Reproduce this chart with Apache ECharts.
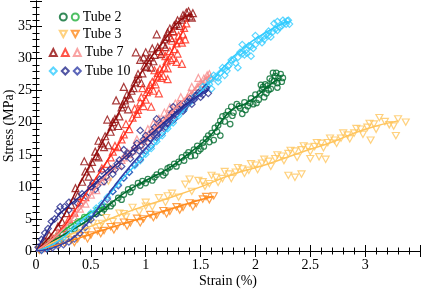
<!DOCTYPE html>
<html>
<head>
<meta charset="utf-8">
<script src="https://cdn.jsdelivr.net/npm/echarts@6/dist/echarts.min.js"></script>
<style>html,body{margin:0;padding:0;background:#fff}#c{width:421px;height:289px}</style>
</head>
<body>
<div id="c"></div>
<script>
// ---- data: [strain %, stress MPa] ----
const tube2aPts = [[0.05,0.4],[0.12,1.3],[0.2,2.1],[0.28,2.6],[0.35,3.4],[0.42,4.6],[0.48,4.9],[0.55,5.8],[0.6,6.0],[0.64,6.9],[0.7,7.4],[0.75,8.3],[0.8,8.8],[0.84,9.6],[0.88,9.9],[0.93,10.6],[0.97,10.9],[1.02,11.2],[1.06,11.0],[1.1,11.9],[1.14,12.4],[1.18,12.2],[1.22,13.1],[1.26,13.6],[1.3,13.9],[1.33,14.6],[1.37,15.0],[1.41,14.8],[1.44,15.8],[1.47,16.4],[1.5,15.9],[1.52,16.9],[1.55,17.5],[1.58,17.0],[1.6,18.4],[1.63,19.2],[1.65,18.6],[1.68,20.3],[1.7,21.0],[1.72,20.2],[1.75,21.8],[1.78,22.5],[1.8,21.6],[1.83,22.9],[1.86,22.3],[1.9,23.2],[1.93,22.6],[1.96,23.8],[2.0,24.4],[2.03,23.6],[2.06,25.2],[2.09,26.0],[2.12,25.1],[2.15,26.6],[2.18,27.3],[2.2,26.2],[2.23,27.6],[2.25,27.0],[1.88,21.4],[1.98,22.9],[2.1,24.6],[2.2,25.5],[1.77,19.8],[1.62,17.3],[1.45,14.9],[2.16,27.8],[2.08,24.0],[1.68,18.0],
  [0.62,6.5],[0.68,7.0],[0.78,8.0],[0.86,9.2],[0.95,10.2],[1.0,10.6],[1.08,11.5],[1.16,11.8],[1.2,12.9],[1.28,13.2],[1.35,14.1],[1.39,15.4],[1.48,15.6],[1.53,16.3],[1.57,18.0],[1.66,19.6],[1.73,21.2],[1.79,21.1],[1.85,22.6],[1.91,22.0],[1.95,23.1],[2.01,23.1],[2.04,24.6],[2.07,25.6],[2.11,25.8],[2.14,25.3],[2.17,26.5],[2.21,27.0],[2.24,26.4],[2.19,27.8],[2.13,26.9],[2.05,25.9]];
const tube2aLine = [[0,0],[0.2,2],[0.4,4],[0.6,6.3],[0.8,9],[1.0,11],[1.2,12.8],[1.4,15.3],[1.6,18.2],[1.7,20.5],[1.8,22.2],[1.9,22.9],[2.0,24],[2.1,25.5],[2.22,27]];
const tube2bPts = [[0.03,0.3],[0.08,0.9],[0.14,1.8],[0.2,2.4],[0.26,3.3],[0.32,3.9],[0.38,4.6],[0.44,5.3],[0.5,5.7],[0.56,6.4],[0.62,6.9]];
const tube2bLine = [[0,0],[0.1,1.2],[0.2,2.5],[0.3,3.8],[0.4,5],[0.5,6],[0.62,6.9]];
const tube3aPts = [[0.04,0.3],[0.1,1.2],[0.16,2.0],[0.22,1.4],[0.28,2.7],[0.34,2.2],[0.4,3.5],[0.46,3.0],[0.52,4.3],[0.58,3.8],[0.64,5.2],[0.7,4.6],[0.76,5.9],[0.82,5.3],[0.88,6.8],[0.94,6.1],[1.0,7.6],[1.06,6.9],[1.12,8.3],[1.18,7.6],[1.24,9.0],[1.3,8.4],[1.36,10.4],[1.42,9.3],[1.48,11.0],[1.54,10.1],[1.6,11.8],[1.66,10.7],[1.72,12.4],[1.78,11.3],[1.84,13.0],[1.9,12.1],[1.96,13.6],[2.02,12.7],[2.08,14.3],[2.14,13.2],[2.2,15.0],[2.26,14.1],[2.32,15.7],[2.38,14.6],[2.44,16.4],[2.5,15.5],[2.56,16.9],[2.62,16.1],[2.68,17.6],[2.74,16.8],[2.8,18.4],[2.86,17.5],[2.92,19.1],[2.98,18.2],[3.04,19.9],[3.1,19.0],[3.13,20.8],[3.22,19.7],[3.26,19.5],[3.37,20.1],[3.3,20.6],[2.3,11.8],[2.36,11.5],[2.42,12.0],[2.5,14.4],[2.58,14.7],[2.64,14.3],[3.28,18.0],[3.05,17.3],[0.66,10.9],[1.4,11.2],
  [1.52,10.8],[1.58,10.5],[1.64,11.5],[1.7,11.3],[1.76,12.0],[1.82,12.3],[1.88,12.8],[1.94,12.6],[2.0,13.4],[2.06,13.7],[2.12,14.0],[2.18,14.4],[2.24,14.8],[2.3,15.2],[2.36,15.6],[2.42,15.8],[2.48,16.2],[2.54,16.3],[2.6,16.8],[2.66,16.9],[2.72,17.3],[2.78,17.6],[2.84,18.1],[2.9,18.4],[2.96,19.0],[3.02,19.3],[3.08,19.8],[3.18,20.2],[1.2,8.6],[1.0,7.0],[0.8,5.8],[0.6,4.3]];
const tube3aLine = [[0,0],[0.3,2.5],[0.6,4.5],[0.9,6.5],[1.2,8.2],[1.5,10],[1.8,12],[2.1,13.5],[2.4,15.3],[2.7,17],[3.0,19],[3.3,20.3]];
const tube3bPts = [[0.03,0.1],[0.08,0.4],[0.14,0.6],[0.2,1.0],[0.26,1.2],[0.32,1.7],[0.38,1.9],[0.44,2.4],[0.5,2.5],[0.56,3.1],[0.62,3.2],[0.68,3.8],[0.74,3.9],[0.8,4.5],[0.86,4.4],[0.92,5.1],[0.98,5.0],[1.04,5.7],[1.1,5.6],[1.16,6.3],[1.22,6.2],[1.28,6.9],[1.34,6.8],[1.4,7.5],[1.46,7.4],[1.52,8.1],[1.58,8.0],[1.62,8.6],[0.47,1.9],[0.71,3.3],[0.95,4.4],[1.19,5.8],[1.43,6.9],[1.55,8.5],[0.35,1.3],[0.59,2.7],[0.83,3.9],[1.07,5.2],[1.31,6.4]];
const tube3bLine = [[0,0],[0.3,1.5],[0.6,3.2],[0.9,4.8],[1.2,6.4],[1.5,8],[1.62,8.5]];
const tube7aPts = [[0.04,0.5],[0.08,1.6],[0.12,2.5],[0.16,1.8],[0.2,3.8],[0.24,4.5],[0.28,5.9],[0.32,7.2],[0.36,9.8],[0.38,8.6],[0.42,10.8],[0.45,12.4],[0.48,11.6],[0.51,13.9],[0.54,15.5],[0.57,14.6],[0.6,16.8],[0.63,17.9],[0.66,16.5],[0.69,19.4],[0.72,20.6],[0.75,19.5],[0.78,22.4],[0.81,23.5],[0.84,22.1],[0.87,25.0],[0.9,26.3],[0.93,27.6],[0.96,26.2],[0.99,28.9],[1.02,29.8],[1.05,28.6],[1.08,30.6],[1.11,31.8],[1.14,30.7],[1.17,33.0],[1.2,34.1],[1.23,33.2],[1.26,35.2],[1.29,36.0],[1.31,35.1],[1.34,36.8],[1.37,37.2],[1.4,36.6],[1.43,37.1],[0.91,31.0],[0.65,20.5],[0.8,25.6],[0.57,17.2],[0.44,14.0],[0.73,23.5],[1.0,31.0],[0.95,29.8],[1.1,33.8],
  [0.5,12.9],[0.55,14.8],[0.62,16.2],[0.68,18.6],[0.7,20.1],[0.76,21.0],[0.79,22.9],[0.83,24.4],[0.86,23.8],[0.89,25.4],[0.92,26.9],[0.97,27.7],[1.01,28.7],[1.04,30.2],[1.07,29.6],[1.12,31.2],[1.16,32.2],[1.19,33.4],[1.22,34.7],[1.25,34.3],[1.28,35.4],[1.33,36.1],[1.36,36.4],[1.39,37.4],[1.42,36.4],[1.18,31.8],[1.06,31.6],[0.98,30.2]];
const tube7aLine = [[0,0],[0.2,4],[0.4,10.5],[0.6,16.8],[0.8,23],[1.0,29],[1.2,33.6],[1.3,35.8],[1.42,37]];
const tube7bPts = [[0.05,0.5],[0.1,1.2],[0.15,1.8],[0.2,2.8],[0.25,3.6],[0.3,5.0],[0.35,6.0],[0.4,7.6],[0.45,8.4],[0.5,10.2],[0.55,11.0],[0.6,12.9],[0.65,13.6],[0.7,15.5],[0.75,16.2],[0.8,18.2],[0.85,19.0],[0.88,20.8],[0.92,21.4],[0.95,23.2],[0.98,22.6],[1.01,24.8],[1.04,25.9],[1.07,25.0],[1.1,27.2],[1.13,28.4],[1.16,27.3],[1.19,29.6],[1.22,31.2],[1.25,30.1],[1.28,32.4],[1.3,33.6],[1.33,32.5],[1.35,34.8],[1.37,35.5],[1.2,26.8],[1.12,24.6],[1.28,29.5],[1.05,22.5],[0.97,25.4],[1.15,31.0],[1.25,34.2],[1.33,29.2],
  [0.9,22.2],[0.93,22.0],[0.96,24.0],[1.0,23.6],[1.03,25.2],[1.06,26.4],[1.09,26.0],[1.11,27.8],[1.14,27.0],[1.17,28.6],[1.2,28.5],[1.23,29.8],[1.26,31.5],[1.29,30.8],[1.31,32.9],[1.34,33.8],[1.36,33.0],[1.24,32.8],[1.18,30.4],[1.08,28.2],[0.82,19.8],[0.78,17.4],[0.72,16.4],[0.68,14.6]];
const tube7bLine = [[0,0],[0.2,2.7],[0.4,7.5],[0.6,12.8],[0.8,18],[1.0,24],[1.2,30],[1.36,35]];
const tube7cPts = [[0.05,0.5],[0.1,1.3],[0.15,2.0],[0.2,2.8],[0.25,3.4],[0.3,4.6],[0.35,5.3],[0.4,6.6],[0.45,7.4],[0.5,8.8],[0.55,9.5],[0.6,10.9],[0.65,11.6],[0.7,12.9],[0.75,13.4],[0.8,14.6],[0.85,15.1],[0.9,16.2],[0.95,16.6],[1.0,17.7],[1.05,18.1],[1.1,19.4],[1.15,19.8],[1.2,21.2],[1.25,21.6],[1.3,22.9],[1.35,23.3],[1.4,24.6],[1.45,25.0],[1.5,26.2],[1.53,26.9],[1.56,27.4],[1.59,27.1],[1.12,20.6],[1.22,22.4],[1.32,24.0],[1.42,25.6],[1.02,19.0],[0.92,17.4],[1.48,27.0],
  [0.98,17.2],[1.03,18.3],[1.08,18.8],[1.13,19.6],[1.18,20.4],[1.23,21.3],[1.28,22.1],[1.33,22.7],[1.38,23.9],[1.43,24.3],[1.47,25.6],[1.52,26.0],[1.55,26.6],[1.58,27.6],[1.27,23.0],[1.17,21.6],[1.07,19.9],[0.88,15.7],[0.83,15.4],[0.78,14.2]];
const tube7cLine = [[0,0],[0.2,2.6],[0.4,6.5],[0.6,11],[0.8,14.5],[1.0,17.6],[1.2,21],[1.4,24.5],[1.58,27.4]];
const tube10aPts = [[0.05,0.2],[0.1,0.5],[0.15,0.9],[0.2,1.4],[0.25,2.1],[0.3,2.9],[0.35,3.6],[0.4,4.4],[0.45,5.1],[0.5,5.9],[0.55,6.7],[0.6,7.4],[0.65,8.4],[0.7,9.3],[0.75,10.4],[0.8,11.4],[0.85,12.3],[0.9,13.3],[0.95,14.1],[1.0,15.1],[1.05,16.0],[1.1,17.1],[1.15,18.0],[1.2,19.1],[1.25,20.0],[1.3,21.1],[1.35,22.0],[1.4,23.1],[1.45,24.2],[1.5,25.0],[1.54,26.3],[1.58,26.0],[1.62,27.4],[1.66,27.0],[1.7,28.6],[1.74,28.1],[1.78,29.8],[1.82,29.3],[1.86,31.0],[1.9,30.6],[1.94,32.0],[1.98,31.6],[2.02,32.9],[2.06,32.5],[2.1,33.8],[2.14,33.4],[2.18,34.6],[2.22,34.9],[2.26,35.6],[2.29,35.9],[2.31,35.4],[1.6,25.3],[1.72,27.4],[1.84,28.6],[1.96,30.4],[2.08,33.5],[1.88,32.2],[2.0,33.6],[2.2,35.8],
  [1.52,25.6],[1.56,25.8],[1.6,26.8],[1.64,27.2],[1.68,27.8],[1.72,28.4],[1.76,29.0],[1.8,29.9],[1.84,30.2],[1.88,30.8],[1.92,31.4],[1.96,31.9],[2.0,32.2],[2.04,32.9],[2.08,33.0],[2.12,33.6],[2.16,34.2],[2.2,34.4],[2.24,35.1],[2.28,35.4],[2.3,36.0],[2.25,36.0],[2.12,34.3],[1.92,30.9],[1.75,28.8],[1.66,26.4],[2.17,35.5]];
const tube10aLine = [[0,0],[0.2,1.5],[0.4,4.5],[0.6,7.5],[0.8,11.5],[1.0,15],[1.2,19],[1.4,23],[1.6,26.6],[1.8,30.3],[1.9,31.8],[2.0,33.1],[2.2,35.1],[2.3,35.8]];
const tube10bPts = [[0.02,0.6],[0.05,1.8],[0.08,2.8],[0.11,3.5],[0.14,4.6],[0.17,5.0],[0.2,6.2],[0.23,5.6],[0.26,6.9],[0.3,6.4],[0.34,7.8],[0.38,7.4],[0.42,8.9],[0.46,8.5],[0.5,10.0],[0.54,9.6],[0.58,11.2],[0.62,10.8],[0.66,12.4],[0.7,12.0],[0.74,13.6],[0.78,13.2],[0.82,14.8],[0.86,14.4],[0.9,16.1],[0.94,15.6],[0.98,17.4],[1.02,16.9],[1.06,18.6],[1.1,18.1],[1.14,19.8],[1.18,19.3],[1.22,21.0],[1.26,20.6],[1.3,22.2],[1.34,21.8],[1.38,23.3],[1.42,22.9],[1.46,24.3],[1.5,24.0],[1.54,25.1],[1.57,24.6],[0.95,18.8],[1.1,20.6],[0.8,15.8],[1.25,22.5],[0.6,12.5],
  [0.52,10.6],[0.56,10.2],[0.64,11.6],[0.68,12.8],[0.72,12.7],[0.76,14.2],[0.84,15.2],[0.88,15.4],[0.92,16.8],[0.96,16.5],[1.0,18.0],[1.04,17.6],[1.08,19.3],[1.12,19.0],[1.16,20.4],[1.2,20.0],[1.24,21.6],[1.28,21.3],[1.32,22.8],[1.36,22.5],[1.4,23.8],[1.44,23.6],[1.48,24.7],[1.52,24.4],[1.55,25.5],[0.3,7.6],[0.22,6.9]];
const tube10bLine = [[0,0],[0.1,3],[0.2,5.5],[0.4,8.5],[0.6,11.5],[0.8,14.5],[1.0,17.5],[1.2,20.5],[1.4,23.3],[1.57,25.2]];
const tube10cPts = [[0.05,0.1],[0.1,0.3],[0.15,0.5],[0.2,0.8],[0.25,1.0],[0.3,1.4],[0.35,1.9],[0.4,2.8],[0.45,3.7],[0.5,4.9],[0.55,5.8],[0.6,7.0],[0.65,8.1],[0.7,9.3],[0.75,10.2],[0.8,11.4],[0.85,12.3],[0.9,13.5],[0.95,14.3],[1.0,15.6],[1.05,16.4],[1.1,17.7],[1.15,18.4],[1.2,19.8],[1.25,20.4],[1.3,21.7],[1.35,22.2],[1.4,23.3],[1.45,23.8],[1.5,24.6],[1.55,25.3]];
const tube10cLine = [[0,0],[0.2,0.8],[0.4,3],[0.6,7.5],[0.8,12],[1.0,16],[1.2,20],[1.4,23],[1.55,25]];

const xTicks = [0, 0.5, 1, 1.5, 2, 2.5, 3];
const yTicks = [0, 5, 10, 15, 20, 25, 30, 35];

const FONT = "'Liberation Serif', 'Times New Roman', serif";
const TRI_DOWN = 'path://M0,0L10,0L5,9Z';
const groups = [
  {label:'Tube 2', symbol:'circle', size:5.5, items:[['T2a','#006b2e',tube2aPts,tube2aLine],['T2b','#22b03c',tube2bPts,tube2bLine]]},
  {label:'Tube 3', symbol:TRI_DOWN, size:[7,6.3], items:[['T3a','#ffc55e',tube3aPts,tube3aLine],['T3b','#ff8a1c',tube3bPts,tube3bLine]]},
  {label:'Tube 7', symbol:'triangle', size:7, items:[['T7a','#930a0a',tube7aPts,tube7aLine],['T7b','#ff2a1a',tube7bPts,tube7bLine],['T7c','#f88c8c',tube7cPts,tube7cLine]]},
  {label:'Tube 10', symbol:'diamond', size:6.5, items:[['T10a','#33ccff',tube10aPts,tube10aLine],['T10b','#262a8c',tube10bPts,tube10bLine],['T10c','#3340a8',tube10cPts,tube10cLine]]}
];
const series = [];
const legends = [];
const legendTops = [10, 27, 45.5, 64];
const legendLefts = [58.8, 58.8, 48.8, 48.8];
groups.forEach((g, gi) => {
  g.items.forEach(it => {
    series.push({name: it[0], type:'scatter', data: it[2], symbol: g.symbol, symbolSize: g.size,
      itemStyle:{color:'rgba(0,0,0,0)', borderColor: it[1], borderWidth:1.2}, silent:true, animation:false});
  });
  g.items.forEach(it => {
    series.push({name: it[0]+' fit', type:'line', data: it[3], smooth:true, showSymbol:false,
      lineStyle:{color: it[1], width:1.5}, itemStyle:{color: it[1]}, silent:true, animation:false});
  });
  const names = g.items.map(it => it[0]);
  legends.push({
    left: legendLefts[gi], top: legendTops[gi], orient:'horizontal', itemWidth:7, itemHeight:7, itemGap:3,
    padding:0,
    data: names.map((n, k) => (k === names.length-1
      ? {name:n, icon:g.symbol, textStyle:{padding:[0,0,0,-1]}}
      : {name:n, icon:g.symbol})),
    selectedMode:false,
    formatter: n => (n === names[names.length-1] ? g.label : ''),
    textStyle:{fontFamily:FONT, fontSize:14, color:'#000'}
  });
});

const axisCommon = {
  axisLine:{show:true, lineStyle:{color:'#000', width:1}},
  axisTick:{show:true, inside:true, length:6, lineStyle:{color:'#000'}},
  minorTick:{show:true, splitNumber:5, length:3.5, lineStyle:{color:'#000'}},
  splitLine:{show:false}
};
const chart = echarts.init(document.getElementById('c'), null, {renderer:'canvas'});
chart.setOption({
  backgroundColor:'#fff',
  animation:false,
  textStyle:{fontFamily:FONT},
  legend: legends,
  grid:{left:36, right:1, top:1, bottom:38, containLabel:false, outerBoundsMode:'none'},
  xAxis:[
    Object.assign({type:'value', min:xTicks[0], max:3.5, interval:xTicks[1]-xTicks[0], name:'Strain (%)', nameLocation:'middle', nameGap:23, nameMoveOverlap:false,
      nameTextStyle:{fontFamily:FONT, fontSize:14, color:'#000'},
      axisLabel:{fontFamily:FONT, fontSize:14, color:'#000', margin:7, showMaxLabel:false,
        formatter: v => (xTicks.indexOf(v) >= 0 ? String(v) : '')}}, axisCommon),
    Object.assign({type:'value', position:'top', min:xTicks[0], max:3.5, interval:xTicks[1]-xTicks[0], axisLabel:{show:false}}, axisCommon)
  ],
  yAxis:[
    Object.assign({type:'value', min:yTicks[0], max:39, interval:yTicks[1]-yTicks[0], name:'Stress (MPa)', nameLocation:'middle', nameGap:20, nameMoveOverlap:false,
      nameTextStyle:{fontFamily:FONT, fontSize:14, color:'#000'},
      axisLabel:{fontFamily:FONT, fontSize:14, color:'#000', margin:4, showMaxLabel:false,
        formatter: v => (yTicks.indexOf(v) >= 0 ? String(v) : '')}}, axisCommon),
    Object.assign({type:'value', position:'right', min:yTicks[0], max:39, interval:yTicks[1]-yTicks[0], axisLabel:{show:false}}, axisCommon)
  ],
  series: series
});
</script>
</body>
</html>
